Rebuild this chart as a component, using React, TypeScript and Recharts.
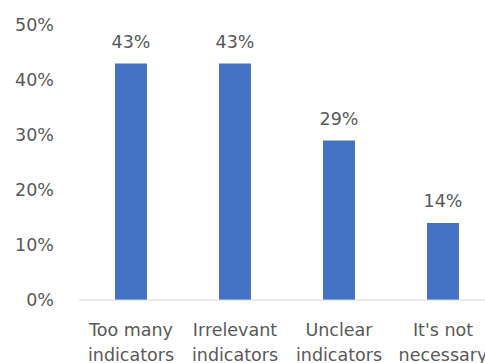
import React from 'react';
import { BarChart, Bar, XAxis, YAxis, LabelList } from 'recharts';

const categories = ['Too many indicators', 'Irrelevant indicators', 'Unclear indicators', "It's not necessary"];
const shares = [43, 43, 29, 14];
const yTicks = [0, 10, 20, 30, 40, 50];

const data = categories.map((name, i) => ({ name, value: shares[i] }));

const textColor = '#595959';
const font = '"DejaVu Sans", sans-serif';

// split the label at its last space -> two lines like the original
const CategoryTick = (props: any) => {
    const { x, y, payload } = props;
    const s: string = payload.value;
    const cut = s.lastIndexOf(' ');
    const lines = [s.slice(0, cut), s.slice(cut + 1)];
    return (
        <g>
            {lines.map((t, i) => (
                <text key={i} x={x} y={y + 36 + i * 25} textAnchor="middle"
                    fill={textColor} fontSize={17.5} fontFamily={font}>
                    {t}
                </text>
            ))}
        </g>
    );
};

export default function App() {
    return (
        <div style={{ position: 'absolute', left: 0, top: 0, width: 485, height: 363, overflow: 'hidden', background: '#fff' }}>
            <BarChart width={500} height={380} data={data}
                margin={{ top: 25, right: 5, left: 0, bottom: 0 }}>
                <XAxis dataKey="name" height={80} interval={0}
                    axisLine={{ stroke: '#D9D9D9', strokeWidth: 1 }}
                    tickLine={false} tickSize={0} tickMargin={0}
                    tick={<CategoryTick />} />
                <YAxis width={79} domain={[0, 50]} ticks={yTicks} interval={0}
                    axisLine={false} tickLine={false} tickMargin={19}
                    tickFormatter={(v: number) => `${v}%`}
                    tick={{ fill: textColor, fontSize: 17.5, fontFamily: font }} />
                <Bar dataKey="value" fill="#4472C4" barSize={32} isAnimationActive={false}>
                    <LabelList dataKey="value" position="top" offset={16}
                        formatter={(v: any) => `${v}%`}
                        style={{ fill: textColor, fontSize: 17.5, fontFamily: font }} />
                </Bar>
            </BarChart>
        </div>
    );
}
